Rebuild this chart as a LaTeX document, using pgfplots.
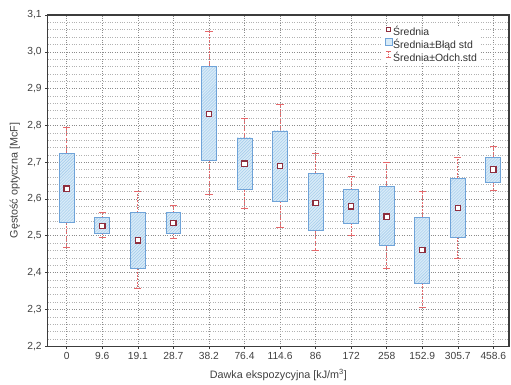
\documentclass[border=0pt]{standalone}
\usepackage{pgfplots}
\pgfplotsset{compat=1.18}
\usepgfplotslibrary{statistics}
\usetikzlibrary{patterns}
\usepackage{fontspec}
\setmainfont{Liberation Sans}
\definecolor{boxfill}{HTML}{D8EBF8}
\definecolor{hatch}{HTML}{9EC8EA}
\definecolor{boxedge}{HTML}{6FA3D8}
\definecolor{whisk}{HTML}{E5686B}
\definecolor{meanc}{HTML}{8E2E3E}
\definecolor{axc}{HTML}{3C3C3C}
\newcommand{\bp}[6]{\addplot[forget plot, boxplot prepared={draw position=#1, lower whisker=#2, lower quartile=#3, median=#4, upper quartile=#5, upper whisker=#6, box extend=0.42, whisker extend=0.2}] coordinates {};}
\begin{document}
\begin{tikzpicture}
\begin{axis}[
  name=ax,
  scale only axis,
  width=461bp, height=331bp,
  xmin=-0.535, xmax=12.44,
  ymin=2.2, ymax=3.1,
  xtick={0,...,12},
  xticklabels={0,9.6,19.1,28.7,38.2,76.4,114.6,86,172,258,152.9,305.7,458.6},
  ytick={2.2,2.3,...,3.1},
  minor y tick num=4,
  grid=both,
  major grid style={dotted, line width=0.6pt, black!45},
  minor grid style={dotted, line width=0.5pt, black!30},
  axis line style={axc, line width=1.3pt},
  tick style={axc, line width=0.6pt},
  major tick length=2.5bp, minor tick length=0pt,
  tick align=outside,
  xtick pos=bottom, ytick pos=left,
  ticklabel style={font=\fontsize{10.3}{11}\selectfont, text=black!75},
  /pgf/number format/assume math mode=true,
  yticklabel style={/pgf/number format/.cd, fixed, fixed zerofill, precision=1, use comma},
  every axis y label/.style={at={(axis description cs:0,0.5)}, xshift=-33bp, rotate=90, anchor=center, font=\fontsize{10.8}{12}\selectfont, text=black!75},
  every axis x label/.style={at={(axis description cs:0.5,0)}, yshift=-29bp, anchor=center, font=\fontsize{10.8}{12}\selectfont, text=black!75},
  ylabel={Gęstość optyczna [McF]},
  xlabel={Dawka ekspozycyjna [kJ/m\textsuperscript{3}]},
  boxplot/draw direction=y,
  boxplot/every box/.style={draw=boxedge, line width=0.8pt, fill=boxfill, postaction={pattern=north east lines, pattern color=hatch}},
  boxplot/draw/median/.code={},
  boxplot/draw/whisker/.code 2 args={
    \draw[whisk, line width=0.9pt, dash pattern=on 2bp off 1.4bp] (boxplot box cs:#1,0.5) -- (boxplot box cs:#2,0.5);
    \draw[whisk, line width=1pt] (boxplot whisker cs:#2,0) -- (boxplot whisker cs:#2,1);
  },
  legend cell align=left,
  legend style={at={(0.727,0.968)}, anchor=north west, draw=none, fill=white, font=\fontsize{10.5}{10}\selectfont, inner sep=1.5pt, row sep=1.8bp, nodes={inner sep=0.5pt, text height=7.5bp, text depth=0pt}, text=black!80,
    /tikz/every even column/.append style={column sep=3bp}},
]
\bp{0}{2.468}{2.537}{2.628}{2.724}{2.794}
\bp{1}{2.495}{2.507}{2.527}{2.549}{2.564}
\bp{2}{2.357}{2.412}{2.488}{2.563}{2.621}
\bp{3}{2.493}{2.507}{2.535}{2.563}{2.582}
\bp{4}{2.612}{2.705}{2.831}{2.961}{3.054}
\bp{5}{2.573}{2.625}{2.696}{2.766}{2.819}
\bp{6}{2.523}{2.594}{2.690}{2.785}{2.858}
\bp{7}{2.459}{2.514}{2.589}{2.669}{2.724}
\bp{8}{2.502}{2.535}{2.580}{2.625}{2.662}
\bp{9}{2.411}{2.473}{2.552}{2.635}{2.698}
\bp{10}{2.304}{2.372}{2.461}{2.550}{2.621}
\bp{11}{2.439}{2.497}{2.576}{2.657}{2.714}
\bp{12}{2.623}{2.646}{2.680}{2.714}{2.742}
\addplot[only marks, mark=square*, mark size=2.7pt, mark options={fill=white, draw=meanc, line width=1.2pt},
  legend image code/.code={\draw[mark=square*, mark size=1.9pt, mark options={fill=white, draw=meanc, line width=0.9pt}] plot coordinates {(0.1cm,0.1cm)};}]
  coordinates {(0,2.628) (1,2.527) (2,2.488) (3,2.535) (4,2.831) (5,2.696) (6,2.690) (7,2.589) (8,2.580) (9,2.552) (10,2.461) (11,2.576) (12,2.680)};
\addlegendentry{Średnia}
\addlegendimage{legend image code/.code={\draw[draw=boxedge, fill=boxfill, line width=0.6pt] (-0.03cm,-0.02cm) rectangle (0.23cm,0.24cm);}}
\addlegendentry{Średnia±Błąd std}
\addlegendimage{legend image code/.code={\draw[whisk, line width=0.7pt, dash pattern=on 1.2bp off 0.8bp] (0.1cm,0.01cm) -- (0.1cm,0.21cm); \draw[whisk, line width=0.7pt] (0.02cm,0.01cm) -- (0.18cm,0.01cm) (0.02cm,0.21cm) -- (0.18cm,0.21cm);}}
\addlegendentry{Średnia±Odch.std}
\end{axis}
\path[use as bounding box] ([shift={(-47.7bp,-35bp)}]ax.south west) rectangle ([shift={(2bp,15bp)}]ax.north east);
\end{tikzpicture}
\end{document}
